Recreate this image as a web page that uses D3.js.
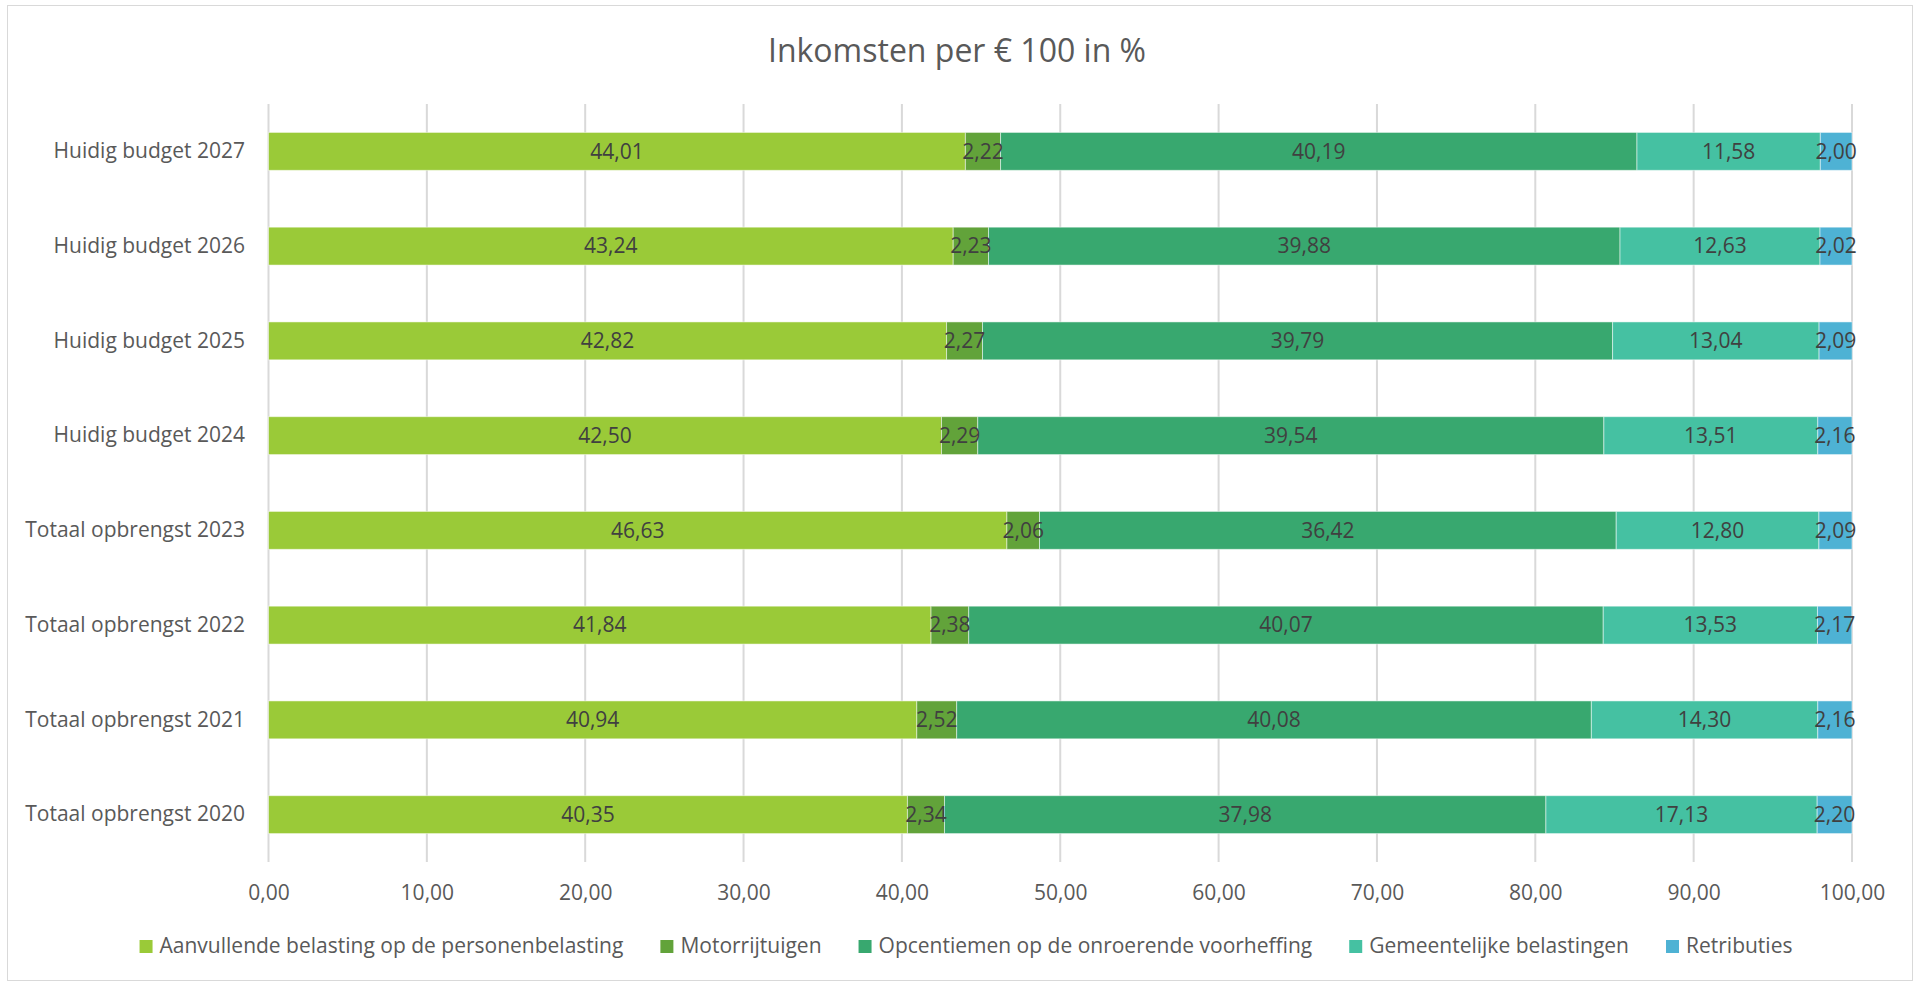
<!DOCTYPE html>
<html>
<head>
<meta charset="utf-8">
<script src="https://cdn.jsdelivr.net/npm/d3@7"></script>
<style>
  body { margin: 0; background: #fff; }
  svg text { font-family: "Open Sans", sans-serif; }
</style>
</head>
<body>
<div id="chart"></div>
<script>
// categories, top to bottom
let categories = [
    "Huidig budget 2027",
    "Huidig budget 2026",
    "Huidig budget 2025",
    "Huidig budget 2024",
    "Totaal opbrengst 2023",
    "Totaal opbrengst 2022",
    "Totaal opbrengst 2021",
    "Totaal opbrengst 2020"
];

let seriesNames = [
    "Aanvullende belasting op de personenbelasting",
    "Motorrijtuigen",
    "Opcentiemen op de onroerende voorheffing",
    "Gemeentelijke belastingen",
    "Retributies"
];

let aanvullende = [44.01, 43.24, 42.82, 42.50, 46.63, 41.84, 40.94, 40.35];
let motorrijtuigen = [2.22, 2.23, 2.27, 2.29, 2.06, 2.38, 2.52, 2.34];
let opcentiemen = [40.19, 39.88, 39.79, 39.54, 36.42, 40.07, 40.08, 37.98];
let gemeentelijke = [11.58, 12.63, 13.04, 13.51, 12.80, 13.53, 14.30, 17.13];
let retributies = [2.00, 2.02, 2.09, 2.16, 2.09, 2.17, 2.16, 2.20];

let xTicks = [0, 10, 20, 30, 40, 50, 60, 70, 80, 90, 100];

let colors = ["#9aca38", "#62a33a", "#38a86f", "#45c1a2", "#4eb2d4"];

(function() {
    let w = 1914,
        h = 981,
        fs = 21;

    let margin = {left: 268.5, right: 1914 - 1852, top: 104, bottom: 981 - 862};

    let svg = d3.select("#chart")
        .append("svg")
        .attr("width", w)
        .attr("height", h);

    // chart border
    svg.append("rect")
        .attr("x", 7.5).attr("y", 5.5)
        .attr("width", 1905).attr("height", 975)
        .attr("fill", "#fff")
        .attr("stroke", "#d9d9d9");

    svg.append("text")
        .attr("x", 957).attr("y", 62)
        .attr("text-anchor", "middle")
        .attr("fill", "#595959")
        .attr("font-size", 32)
        .text("Inkomsten per € 100 in %");

    let x = d3.scaleLinear()
        .domain([0, 100])
        .range([margin.left, w - margin.right]);

    let y = d3.scaleBand()
        .domain(categories)
        .range([margin.top, h - margin.bottom])
        .paddingInner(0.6)
        .paddingOuter(0.3);

    let fmt = v => d3.format(".2f")(v).replace(".", ",");

    // gridlines
    svg.append("g")
        .selectAll("line").data(xTicks).enter().append("line")
        .attr("x1", d => x(d)).attr("x2", d => x(d))
        .attr("y1", margin.top).attr("y2", h - margin.bottom)
        .attr("stroke", "#d9d9d9")
        .attr("stroke-width", 2);

    // x axis labels
    let xAxis = d3.axisBottom(x).tickValues(xTicks).tickFormat(fmt).tickSize(0).tickPadding(0);
    let gx = svg.append("g")
        .attr("transform", "translate(0," + 900 + ")")
        .call(xAxis);
    gx.select(".domain").remove();
    gx.selectAll("text")
        .attr("font-size", fs)
        .attr("fill", "#595959")
        .attr("font-family", "'Open Sans', sans-serif")
        .attr("dy", 0);

    // y axis labels
    let yAxis = d3.axisLeft(y).tickSize(0).tickPadding(0);
    let gy = svg.append("g")
        .attr("transform", "translate(245,0)")
        .call(yAxis);
    gy.select(".domain").remove();
    gy.selectAll("text")
        .attr("font-size", fs)
        .attr("fill", "#595959")
        .attr("font-family", "'Open Sans', sans-serif");

    // stack the series
    let rows = categories.map((c, i) => ({
        cat: c,
        s0: aanvullende[i],
        s1: motorrijtuigen[i],
        s2: opcentiemen[i],
        s3: gemeentelijke[i],
        s4: retributies[i]
    }));
    let stack = d3.stack().keys(["s0", "s1", "s2", "s3", "s4"]);
    let layers = stack(rows);

    let gl = svg.append("g").selectAll("g").data(layers).enter().append("g")
        .attr("fill", (d, i) => colors[i]);

    gl.selectAll("rect").data(d => d).enter().append("rect")
        .attr("x", d => x(d[0]))
        .attr("y", d => y(d.data.cat))
        .attr("width", d => x(d[1]) - x(d[0]))
        .attr("height", y.bandwidth())
        .attr("stroke", "#ffffff")
        .attr("stroke-opacity", 0.5)
        .attr("stroke-width", 1);

    // data labels
    let gt = svg.append("g").selectAll("g").data(layers).enter().append("g");
    gt.selectAll("text").data(d => d).enter().append("text")
        .attr("x", d => (x(d[0]) + x(d[1])) / 2)
        .attr("y", d => y(d.data.cat) + y.bandwidth() / 2)
        .attr("dy", "0.35em")
        .attr("text-anchor", "middle")
        .attr("font-size", fs)
        .attr("fill", "#404040")
        .text(d => fmt(d[1] - d[0]));

    // legend
    let legend = svg.append("g").attr("transform", "translate(0,953)");
    let items = legend.selectAll("g").data(seriesNames).enter().append("g");
    items.append("rect")
        .attr("width", 13).attr("height", 13)
        .attr("y", -13)
        .attr("fill", (d, i) => colors[i]);
    items.append("text")
        .attr("x", 20)
        .attr("y", 0)
        .attr("font-size", fs)
        .attr("fill", "#595959")
        .text(d => d);

    let widths = [];
    items.each(function() {
        widths.push(20 + this.querySelector("text").getComputedTextLength());
    });
    let gap = 37;
    let total = d3.sum(widths) + gap * (widths.length - 1);
    let cx = 966 - total / 2;
    items.attr("transform", (d, i) => {
        let pos = cx;
        cx += widths[i] + gap;
        return "translate(" + pos + ",0)";
    });
})();
</script>
</body>
</html>
